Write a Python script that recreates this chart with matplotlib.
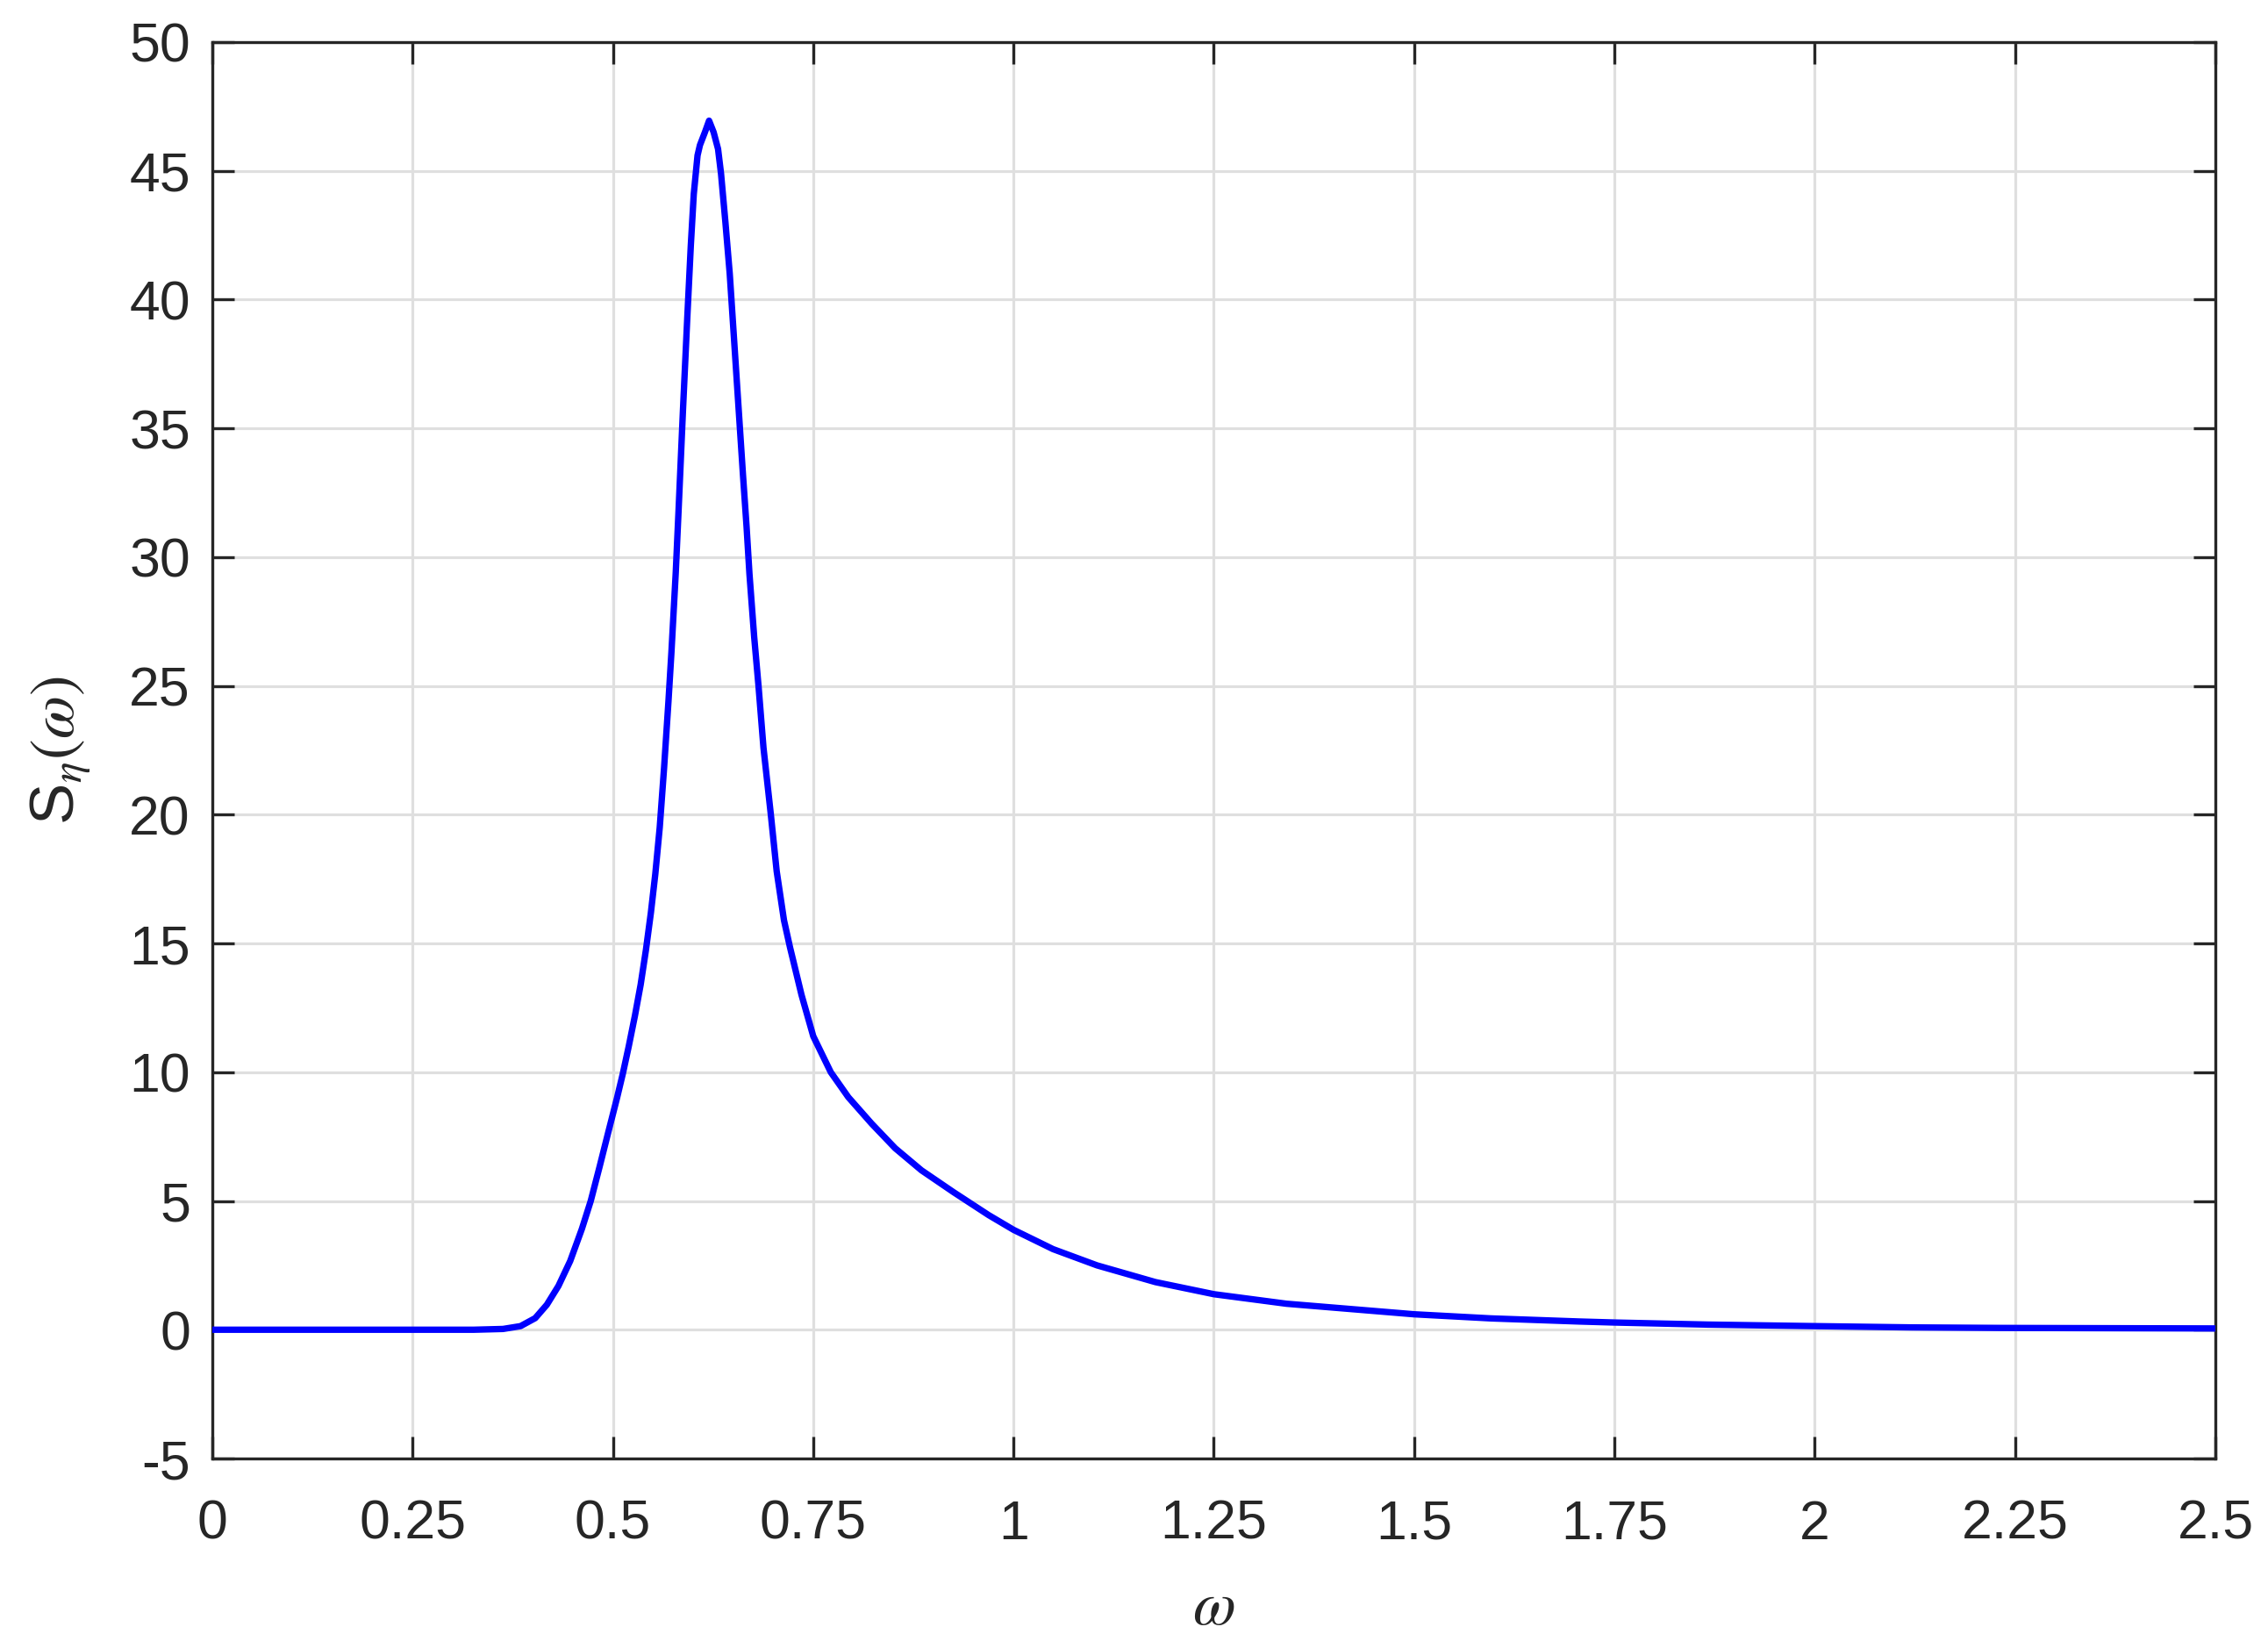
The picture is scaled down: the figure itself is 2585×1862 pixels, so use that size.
import matplotlib
matplotlib.use("Agg")
import matplotlib.pyplot as plt

# Values
omega = [0.0, 0.30, 0.3263, 0.3628, 0.3847, 0.403, 0.4175, 0.432, 0.4467, 0.4613,
         0.4723, 0.4832, 0.4942, 0.5051, 0.5124, 0.5197, 0.5275, 0.5346, 0.5412,
         0.5474, 0.5529, 0.5584, 0.5638, 0.5693, 0.5730, 0.5784, 0.5819, 0.5874,
         0.5928, 0.5972, 0.6009, 0.6056, 0.6086, 0.6148, 0.6200, 0.6257, 0.6312,
         0.6349, 0.6404, 0.6458, 0.6513, 0.6568, 0.6623, 0.6668, 0.6704, 0.6763,
         0.6817, 0.6879, 0.6971, 0.7044, 0.7135, 0.7210, 0.7354, 0.7500, 0.7719,
         0.7938, 0.8230, 0.8522, 0.8851, 0.9252, 0.9690, 1.0, 1.0493, 1.1041,
         1.1771, 1.25, 1.3405, 1.5, 1.596, 1.7055, 1.75, 1.8664, 2.0, 2.122,
         2.231, 2.5]
S_eta = [0.0, 0.0, 0.0, 0.03, 0.14, 0.45, 0.97, 1.70, 2.67, 3.92,
         5.0, 6.31, 7.67, 9.0, 9.95, 11.0, 12.2, 13.4, 14.75,
         16.2, 17.7, 19.5, 21.8, 24.4, 26.3, 29.4, 31.8, 35.7,
         39.3, 42.1, 44.1, 45.6, 46.0, 46.5, 46.95, 46.5, 45.85,
         44.9, 43.0, 41.0, 38.4, 35.8, 33.2, 31.18, 29.35, 26.9,
         25.0, 22.6, 20.0, 17.8, 15.9, 14.85, 13.0, 11.4, 10.0,
         9.03, 8.0, 7.05, 6.19, 5.34, 4.45, 3.88, 3.13, 2.5,
         1.85, 1.38, 1.01, 0.60, 0.44, 0.32, 0.28, 0.20, 0.14, 0.09,
         0.07, 0.05]

xticks = [0, 0.25, 0.5, 0.75, 1, 1.25, 1.5, 1.75, 2, 2.25, 2.5]
xticklabels = ["0", "0.25", "0.5", "0.75", "1", "1.25", "1.5", "1.75", "2", "2.25", "2.5"]
yticks = list(range(-5, 51, 5))
yticklabels = [str(v) for v in yticks]

plt.rcParams['font.family'] = ['Liberation Sans', 'DejaVu Sans']
plt.rcParams['mathtext.fontset'] = 'stix'

fig = plt.figure(figsize=(2586/300, 1862/300), dpi=300)
ax = fig.add_axes([242/2586, 1 - 1662/1862, (2525-242)/2586, (1662-48)/1862])

ax.plot(omega, S_eta, color='#0000ff', lw=1.75, solid_joinstyle='round', zorder=3)

ax.set_xlim(0, 2.5)
ax.set_ylim(-5, 50)
ax.set_xticks(xticks)
ax.set_xticklabels(xticklabels)
ax.set_yticks(yticks)
ax.set_yticklabels(yticklabels)

ax.grid(True, color='#dfdfdf', lw=0.75, zorder=0)
ax.set_axisbelow(True)
for sp in ax.spines.values():
    sp.set_linewidth(0.8)
    sp.set_color('#262626')
ax.tick_params(direction='in', length=6, width=0.8, color='#262626',
               labelsize=15, labelcolor='#262626', top=True, right=True)
ax.tick_params(axis='x', pad=11)
ax.tick_params(axis='y', pad=6)

ax.set_xlabel(r'$\omega$', fontsize=17, color='#262626', labelpad=8)
ax.set_ylabel(r'S$_\eta(\omega)$', fontsize=17, color='#262626', labelpad=10)

fig.savefig('out.png', dpi=300, facecolor='white')
